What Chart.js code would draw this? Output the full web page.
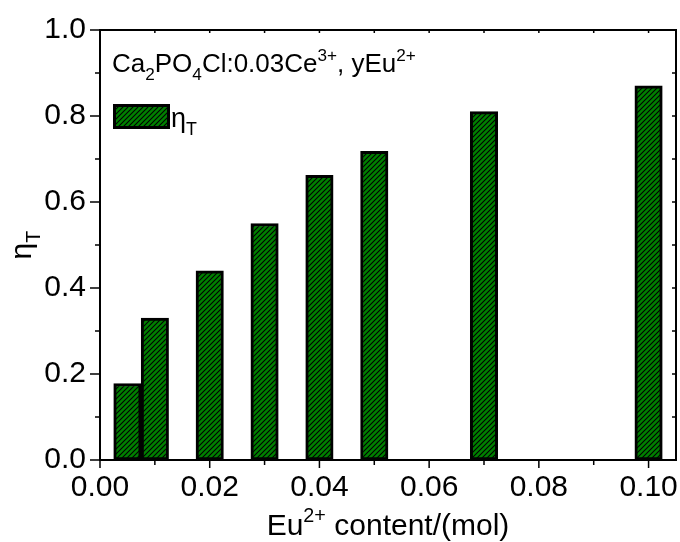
<!DOCTYPE html>
<html>
<head>
<meta charset="utf-8">
<script src="https://cdn.jsdelivr.net/npm/chart.js@4"></script>
<style>
html, body { margin: 0; padding: 0; background: #fff; }
</style>
</head>
<body>
<canvas id="chart" width="680" height="542"></canvas>
<script>
// Eu2+ content (mol) and energy transfer efficiency
var euContent = [0.005, 0.01, 0.02, 0.03, 0.04, 0.05, 0.07, 0.10];
var etaT = [0.178, 0.33, 0.44, 0.55, 0.662, 0.718, 0.81, 0.87];

var xTicks = [0, 0.02, 0.04, 0.06, 0.08, 0.10];
var xMinorTicks = [0.01, 0.03, 0.05, 0.07, 0.09];
var yTicks = [0, 0.2, 0.4, 0.6, 0.8, 1.0];
var yMinorTicks = [0.1, 0.3, 0.5, 0.7, 0.9];

var FONT = '"Liberation Sans", Arial, sans-serif';

// hatch pattern ////
function makeHatch() {
    var c = document.createElement('canvas');
    c.width = 5; c.height = 5;
    var g = c.getContext('2d');
    g.fillStyle = 'rgb(0, 128, 0)';
    g.fillRect(0, 0, 5, 5);
    g.strokeStyle = '#000';
    g.lineWidth = 1.1;
    g.beginPath();
    g.moveTo(-1, 6); g.lineTo(6, -1);
    g.moveTo(-1, 1); g.lineTo(1, -1);
    g.moveTo(4, 6); g.lineTo(6, 4);
    g.stroke();
    return document.getElementById('chart').getContext('2d').createPattern(c, 'repeat');
}
var hatch = makeHatch();

// text with sub / superscripts: parts = [text, 0 normal | 1 sub | -1 sup]
function richText(ctx, parts, x, y, size, draw) {
    var cx = x;
    parts.forEach(function (p) {
        var s = p[1] === 0 ? size : size * 0.66;
        ctx.font = s + 'px ' + FONT;
        var dy = p[1] === 1 ? size * 0.3 : (p[1] === -1 ? -size * 0.42 : 0);
        if (draw) ctx.fillText(p[0], cx, y + dy);
        cx += ctx.measureText(p[0]).width;
    });
    return cx - x;
}

var decorPlugin = {
    id: 'decor',
    afterDraw: function (chart) {
        var ctx = chart.ctx;
        var a = chart.chartArea;
        var xs = chart.scales.x, ys = chart.scales.y;
        ctx.save();
        ctx.strokeStyle = '#000';
        ctx.fillStyle = '#000';
        ctx.lineWidth = 2;
        ctx.strokeRect(a.left, a.top, a.right - a.left, a.bottom - a.top);

        ctx.lineWidth = 1.5;
        ctx.beginPath();
        xTicks.concat(xMinorTicks).forEach(function (v) {
            var px = xs.getPixelForValue(v);
            var major = xTicks.indexOf(v) >= 0;
            ctx.moveTo(px, a.bottom); ctx.lineTo(px, a.bottom + (major ? 8 : 5));
            ctx.moveTo(px, a.top); ctx.lineTo(px, a.top + 3);
        });
        yTicks.concat(yMinorTicks).forEach(function (v) {
            var py = ys.getPixelForValue(v);
            var major = yTicks.indexOf(v) >= 0;
            ctx.moveTo(a.left, py); ctx.lineTo(a.left - (major ? 10 : 5), py);
            ctx.moveTo(a.right, py); ctx.lineTo(a.right - 4, py);
        });
        ctx.stroke();

        ctx.textBaseline = 'alphabetic';
        ctx.textAlign = 'left';

        // annotation
        richText(ctx, [['Ca', 0], ['2', 1], ['PO', 0], ['4', 1], ['Cl:0.03Ce', 0], ['3+', -1], [', yEu', 0], ['2+', -1]], 112, 72, 26, true);

        // legend
        ctx.fillStyle = hatch;
        ctx.fillRect(113, 104, 57, 25);
        ctx.lineWidth = 3;
        ctx.strokeRect(114.5, 105.5, 54, 22);
        ctx.fillStyle = '#000';
        richText(ctx, [['\u03b7', 0], ['T', 1]], 171, 127, 27, true);

        // x title
        var xt = [['Eu', 0], ['2+', -1], [' content/(mol)', 0]];
        var w = richText(ctx, xt, 0, 0, 30, false);
        richText(ctx, xt, (a.left + a.right) / 2 - w / 2, 535, 30, true);

        // y title
        ctx.translate(31, (a.top + a.bottom) / 2);
        ctx.rotate(-Math.PI / 2);
        var yt = [['\u03b7', 0], ['T', 1]];
        var wy = richText(ctx, yt, 0, 0, 30, false);
        richText(ctx, yt, -wy / 2, 0, 30, true);
        ctx.restore();
    }
};

new Chart(document.getElementById('chart'), {
    type: 'bar',
    data: {
        datasets: [{
            label: '\u03b7T',
            data: euContent.map(function (x, i) { return { x: x, y: etaT[i] }; }),
            backgroundColor: hatch,
            borderColor: '#000',
            borderWidth: 3,
            borderSkipped: false,
            barPercentage: 1,
            categoryPercentage: 1
        }]
    },
    options: {
        responsive: false,
        animation: false,
        layout: { padding: { top: 30, right: 4, left: 0, bottom: 0 } },
        plugins: { legend: { display: false }, tooltip: { enabled: false } },
        scales: {
            x: {
                type: 'linear',
                offset: false,
                min: 0,
                max: 0.105,
                grid: { display: false, drawTicks: false, offset: false },
                border: { display: false },
                afterBuildTicks: function (s) { s.ticks = xTicks.map(function (v) { return { value: v }; }); },
                afterFit: function (s) { s.height = 82; s.paddingLeft = 0; s.paddingRight = 0; },
                ticks: {
                    padding: 10,
                    color: '#000',
                    font: { family: FONT, size: 30 },
                    maxRotation: 0,
                    autoSkip: false,
                    callback: function (v) { return v.toFixed(2); }
                }
            },
            y: {
                min: 0,
                max: 1,
                grid: { display: false, drawTicks: false },
                border: { display: false },
                afterBuildTicks: function (s) { s.ticks = yTicks.map(function (v) { return { value: v }; }); },
                afterFit: function (s) { s.width = 100; s.paddingTop = 0; s.paddingBottom = 0; },
                ticks: {
                    padding: 14,
                    color: '#000',
                    font: { family: FONT, size: 30 },
                    autoSkip: false,
                    callback: function (v) { return v.toFixed(1); }
                }
            }
        }
    },
    plugins: [decorPlugin]
});
</script>
</body>
</html>
